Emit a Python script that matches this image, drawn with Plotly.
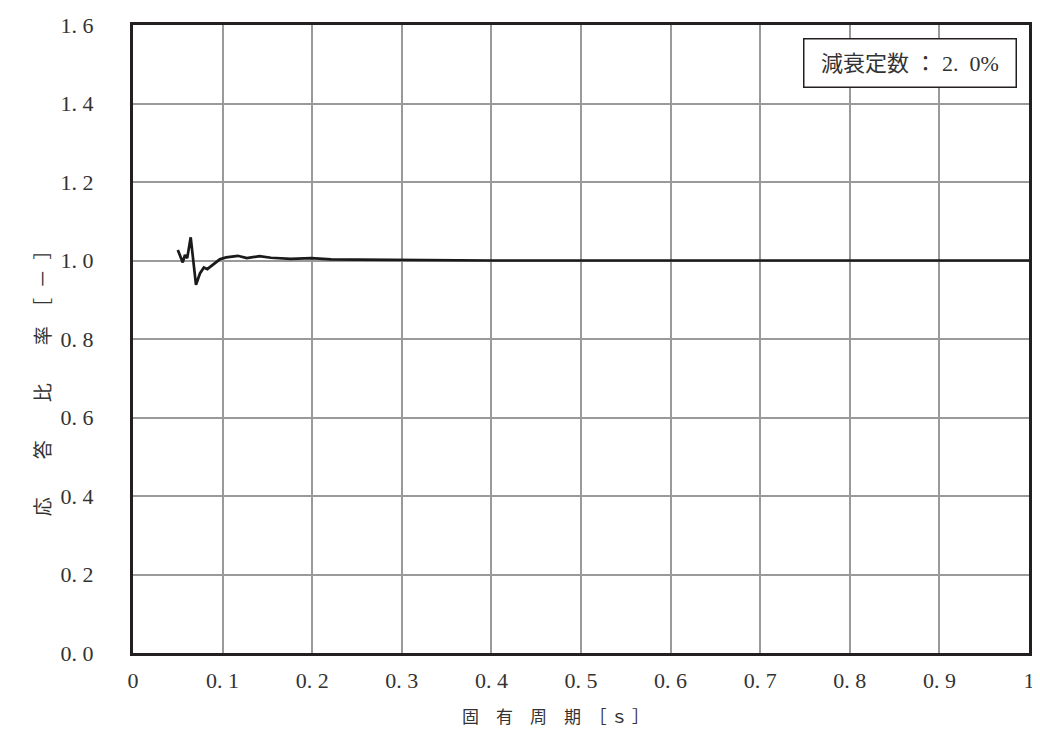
import plotly.graph_objects as go

# Data: natural period [s] vs response ratio [-]
period = [0.050, 0.0555, 0.058, 0.0605, 0.0644, 0.0703, 0.0747, 0.0791, 0.0829,
          0.0896, 0.0969, 0.104, 0.110, 0.117, 0.127, 0.141, 0.154, 0.176,
          0.199, 0.208, 0.221, 0.25, 0.30, 0.35, 0.40, 0.50, 0.60, 0.70,
          0.80, 0.90, 1.00]
ratio = [1.027, 0.995, 1.014, 1.006, 1.059, 0.938, 0.967, 0.982, 0.978,
         0.990, 1.003, 1.008, 1.010, 1.012, 1.006, 1.011, 1.007, 1.004,
         1.006, 1.004, 1.003, 1.002, 1.001, 1.001, 1.000, 1.000, 1.000, 1.000,
         1.000, 1.000, 1.000]

x_ticks = [0, 0.1, 0.2, 0.3, 0.4, 0.5, 0.6, 0.7, 0.8, 0.9, 1.0]
x_ticktext = ["0", "0. 1", "0. 2", "0. 3", "0. 4", "0. 5", "0. 6", "0. 7", "0. 8", "0. 9", "1"]
y_ticks = [0.0, 0.2, 0.4, 0.6, 0.8, 1.0, 1.2, 1.4, 1.6]
y_ticktext = ["0. 0", "0. 2", "0. 4", "0. 6", "0. 8", "1. 0", "1. 2", "1. 4", "1. 6"]

x_title = "固　有　周　期　［ ｓ ］"
y_title = "応　　答　　比　　率　［\u2002－\u2002］"
legend_text = "減衰定数 ： 2.  0%"

FONT = "Liberation Serif, Noto Sans CJK JP, serif"

fig = go.Figure()
fig.add_trace(go.Scatter(
    x=period, y=ratio, mode="lines",
    line=dict(color="#1a1a1a", width=2.7),
    showlegend=False,
))

# page body has a default margin, so the figure is sized/offset to compensate
fig.update_layout(
    width=1032, height=727,
    margin=dict(l=125, r=5, t=15, b=82),
    paper_bgcolor="white", plot_bgcolor="white",
    font=dict(family=FONT, size=22, color="#333333"),
    xaxis=dict(
        range=[0, 1], tickvals=x_ticks, ticktext=x_ticktext,
        showgrid=True, gridcolor="#9a9a9a", gridwidth=2,
        showline=True, linecolor="#231f20", linewidth=3, mirror=True,
        ticks="", ticklabelstandoff=6, zeroline=False,
    ),
    yaxis=dict(
        range=[0, 1.6], tickvals=y_ticks, ticktext=y_ticktext,
        showgrid=True, gridcolor="#9a9a9a", gridwidth=2,
        showline=True, linecolor="#231f20", linewidth=3, mirror=True,
        ticks="", ticklabelstandoff=32, zeroline=False,
    ),
    annotations=[
        dict(text=x_title, xref="paper", yref="paper", x=0.4715, y=-0.102,
             xanchor="center", yanchor="middle", showarrow=False,
             font=dict(family=FONT, size=17, color="#333333")),
        dict(text=y_title, xref="paper", yref="paper", x=-0.099, y=0.438,
             xanchor="center", yanchor="middle", textangle=-90, showarrow=False,
             font=dict(family=FONT, size=19, color="#333333")),
        dict(text=legend_text, xref="paper", yref="paper", x=0.9867, y=0.979,
             xanchor="right", yanchor="top", showarrow=False,
             width=205, height=41, align="center",
             bordercolor="#231f20", borderwidth=1.5, borderpad=3, bgcolor="white",
             font=dict(family=FONT, size=22, color="#333333")),
    ],
)

fig.write_html("out.html")
